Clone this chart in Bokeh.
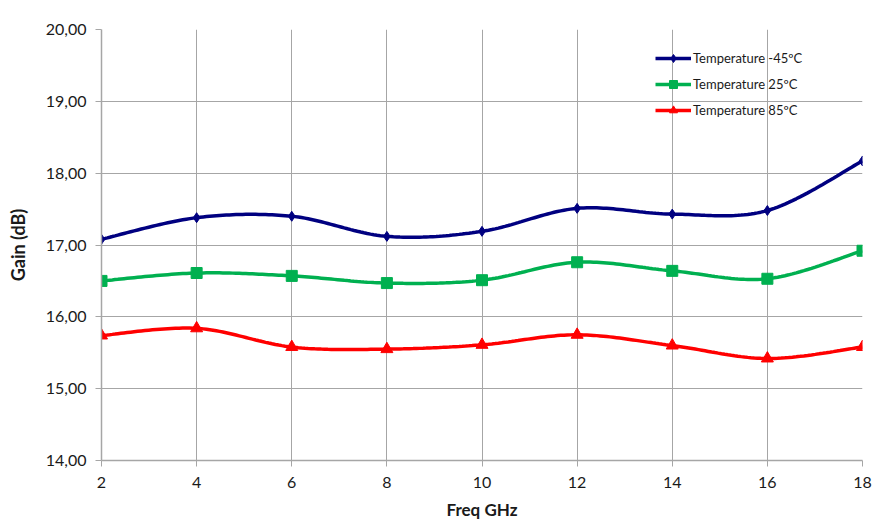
import numpy as np
from bokeh.plotting import figure
from bokeh.models import Range1d, FixedTicker, Legend, LegendItem
from bokeh.embed import file_html
from bokeh.resources import INLINE

freq = [2, 4, 6, 8, 10, 12, 14, 16, 18]
gain_m45 = [17.08, 17.38, 17.40, 17.12, 17.19, 17.51, 17.43, 17.48, 18.17]
gain_25 = [16.50, 16.61, 16.57, 16.47, 16.51, 16.76, 16.64, 16.53, 16.92]
gain_85 = [15.74, 15.84, 15.58, 15.55, 15.61, 15.75, 15.60, 15.42, 15.58]
series_names = ["Temperature -45ºC", "Temperature 25ºC", "Temperature 85ºC"]
y_ticks = [14, 15, 16, 17, 18, 19, 20]
y_tick_labels = ["14,00", "15,00", "16,00", "17,00", "18,00", "19,00", "20,00"]
x_ticks = [2, 4, 6, 8, 10, 12, 14, 16, 18]

FONT = "Lato"


def smooth(xs, ys, n=30):
    """Excel-like smoothed line (Catmull-Rom style cubic Bezier)."""
    x = np.asarray(xs, float)
    y = np.asarray(ys, float)
    px = np.concatenate([[x[0]], x, [x[-1]]])
    py = np.concatenate([[y[0]], y, [y[-1]]])
    ox, oy = [], []
    t = np.linspace(0, 1, n)
    for i in range(1, len(px) - 2):
        p0 = np.array([px[i], py[i]])
        p3 = np.array([px[i + 1], py[i + 1]])
        c1 = p0 + (np.array([px[i + 1], py[i + 1]]) - np.array([px[i - 1], py[i - 1]])) / 6.0
        c2 = p3 - (np.array([px[i + 2], py[i + 2]]) - np.array([px[i], py[i]])) / 6.0
        b = ((1 - t) ** 3)[:, None] * p0 + (3 * (1 - t) ** 2 * t)[:, None] * c1 \
            + (3 * (1 - t) * t ** 2)[:, None] * c2 + (t ** 3)[:, None] * p3
        ox.extend(b[:, 0].tolist())
        oy.extend(b[:, 1].tolist())
    return ox, oy


p = figure(width=874, height=529, output_backend="svg", toolbar_location=None,
           x_range=Range1d(2, 18), y_range=Range1d(14, 20),
           min_border_left=101, min_border_right=12, min_border_top=29, min_border_bottom=69)
p.outline_line_color = None
p.background_fill_color = "white"
p.border_fill_color = "white"

for ax in (p.xaxis[0], p.yaxis[0]):
    ax.axis_line_color = "#a6a6a6"
    ax.axis_line_width = 1.5
    ax.major_tick_line_color = "#a6a6a6"
    ax.major_tick_out = 6
    ax.major_tick_in = 0
    ax.minor_tick_line_color = None
    ax.major_label_text_font = FONT
    ax.major_label_text_font_size = "16px"
    ax.major_label_text_color = "#1a1a1a"
    ax.axis_label_text_font = FONT
    ax.axis_label_text_font_style = "bold"
    ax.axis_label_text_color = "#1a1a1a"

p.xaxis.ticker = FixedTicker(ticks=x_ticks)
p.yaxis.ticker = FixedTicker(ticks=y_ticks)
p.yaxis.major_label_overrides = {t: l for t, l in zip(y_ticks, y_tick_labels)}
p.xaxis.axis_label = "Freq GHz"
p.yaxis.axis_label = "Gain (dB)"
p.xaxis.axis_label_text_font_size = "17px"
p.yaxis.axis_label_text_font_size = "18px"
p.xaxis.major_label_standoff = 10
p.yaxis.major_label_standoff = 9
p.xaxis.axis_label_standoff = 8
p.yaxis.axis_label_standoff = 14

p.xgrid.grid_line_color = "#a6a6a6"
p.ygrid.grid_line_color = "#a6a6a6"
p.xgrid.grid_line_width = 1
p.ygrid.grid_line_width = 1

colors = ["#000080", "#00b050", "#ff0000"]
markers = ["diamond", "square", "triangle"]
sizes = [10, 11, 12]
items = []
for name, vals, c, m, s in zip(series_names, [gain_m45, gain_25, gain_85], colors, markers, sizes):
    sx, sy = smooth(freq, vals)
    r1 = p.line(sx, sy, line_color=c, line_width=3.5)
    r2 = p.scatter(freq, vals, marker=m, size=s, fill_color=c, line_color=c)
    items.append(LegendItem(label=name, renderers=[r1, r2]))

legend = Legend(items=items, location="top_right")
legend.background_fill_alpha = 0
legend.border_line_color = None
legend.label_text_font = FONT
legend.label_text_font_size = "13px"
legend.label_text_color = "#1a1a1a"
legend.glyph_width = 36
legend.glyph_height = 20
legend.spacing = 6
legend.label_standoff = 2
legend.margin = 0
legend.padding = 0
legend.location = (655 - 101, 431 - 19 - 3 * 20 - 12)
p.add_layout(legend, "center")

open("out.html", "w").write(file_html(p, INLINE))
